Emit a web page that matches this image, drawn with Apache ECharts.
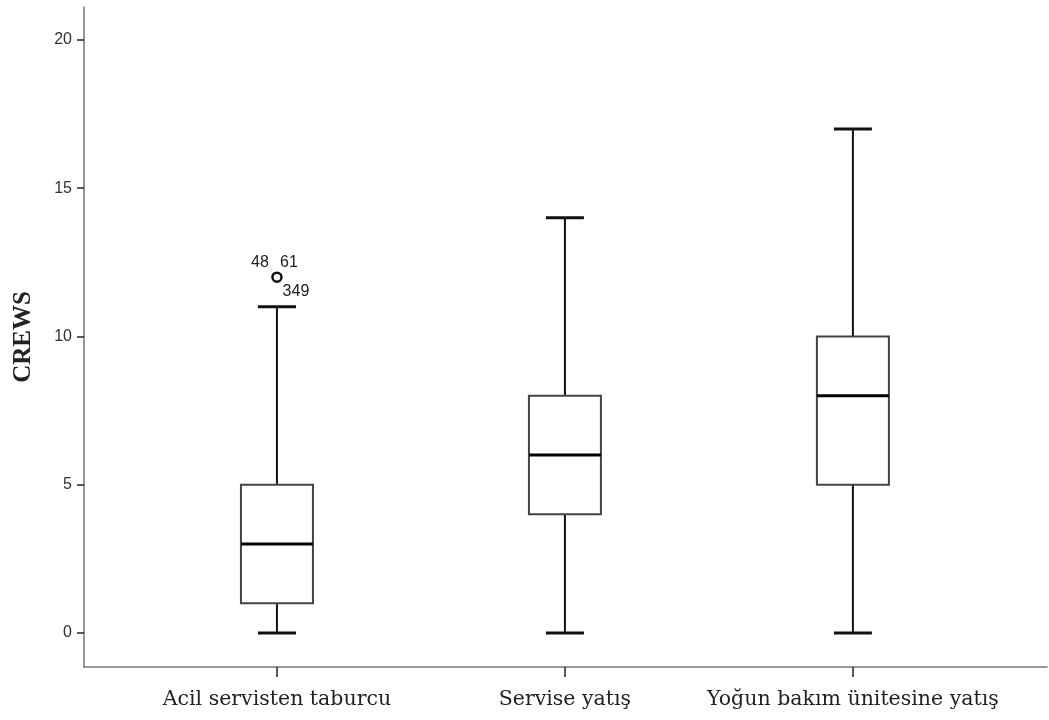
<!DOCTYPE html>
<html>
<head>
<meta charset="utf-8">
<script src="https://cdn.jsdelivr.net/npm/echarts@6/dist/echarts.min.js"></script>
<style>html,body{margin:0;padding:0;background:#fff;}#c{width:1049px;height:720px;}</style>
</head>
<body>
<div id="c"></div>
<script>
const categories = ['Acil servisten taburcu', 'Servise yatış', 'Yoğun bakım ünitesine yatış'];
const mins = [0, 0, 0];
const q1s = [1, 4, 5];
const medians = [3, 6, 8];
const q3s = [5, 8, 10];
const maxs = [11, 14, 17];
const outlierPoints = [[0, 12]];
const outlierLabels = [['48', '61', '349']];
const yTicks = [0, 5, 10, 15, 20];
const yName = 'CREWS';

const boxData = categories.map((c, i) => [i, mins[i], q1s[i], medians[i], q3s[i], maxs[i]]);

const chart = echarts.init(document.getElementById('c'));
chart.setOption({
  animation: false,
  backgroundColor: '#fff',
  grid: { left: 84, right: 2, top: 7, bottom: 53, containLabel: false, outerBoundsMode: 'none' },
  xAxis: {
    type: 'value', min: -0.670, max: 2.674,
    splitLine: { show: false },
    axisLine: { show: true, onZero: false, lineStyle: { color: '#777', width: 1.5 } },
    axisTick: { show: true, length: 10, customValues: categories.map((c, i) => i), lineStyle: { color: '#222', width: 1.5 } },
    axisLabel: {
      customValues: categories.map((c, i) => i),
      formatter: v => categories[Math.round(v)],
      margin: 22, fontFamily: 'DejaVu Serif', fontSize: 20.5, color: '#222'
    }
  },
  yAxis: {
    type: 'value', min: -1.147, max: 21.11,
    name: yName, nameLocation: 'middle', nameGap: 48, nameRotate: 90,
    nameTextStyle: { fontFamily: 'Liberation Serif', fontWeight: 'bold', fontSize: 25, color: '#222' },
    splitLine: { show: false },
    axisLine: { show: true, onZero: false, lineStyle: { color: '#777', width: 1.5 } },
    axisTick: { show: true, length: 7, customValues: yTicks, lineStyle: { color: '#222', width: 1.5 } },
    axisLabel: { customValues: yTicks, margin: 12, fontFamily: 'Liberation Sans', fontSize: 16, color: '#333' }
  },
  series: [
    {
      type: 'custom',
      data: boxData,
      renderItem: (params, api) => {
        const x = api.value(0);
        const unit = api.size([1, 0])[0];
        const hw = unit * 0.125, cw = unit * 0.066;
        const pMin = api.coord([x, api.value(1)]);
        const pQ1 = api.coord([x, api.value(2)]);
        const pMed = api.coord([x, api.value(3)]);
        const pQ3 = api.coord([x, api.value(4)]);
        const pMax = api.coord([x, api.value(5)]);
        const cx = pMed[0];
        return {
          type: 'group',
          children: [
            { type: 'line', shape: { x1: cx, y1: pMax[1], x2: cx, y2: pQ3[1] }, style: { stroke: '#111', lineWidth: 2 } },
            { type: 'line', shape: { x1: cx, y1: pQ1[1], x2: cx, y2: pMin[1] }, style: { stroke: '#111', lineWidth: 2 } },
            { type: 'line', shape: { x1: cx - cw, y1: pMax[1], x2: cx + cw, y2: pMax[1] }, style: { stroke: '#111', lineWidth: 3 } },
            { type: 'line', shape: { x1: cx - cw, y1: pMin[1], x2: cx + cw, y2: pMin[1] }, style: { stroke: '#111', lineWidth: 3 } },
            { type: 'rect', shape: { x: cx - hw, y: pQ3[1], width: 2 * hw, height: pQ1[1] - pQ3[1] }, style: { fill: '#fff', stroke: '#444', lineWidth: 2 } },
            { type: 'line', shape: { x1: cx - hw, y1: pMed[1], x2: cx + hw, y2: pMed[1] }, style: { stroke: '#000', lineWidth: 3 } }
          ]
        };
      }
    },
    {
      type: 'custom',
      data: outlierPoints,
      renderItem: (params, api) => {
        const p = api.coord([api.value(0), api.value(1)]);
        const labs = outlierLabels[params.dataIndex];
        const font = '16px "Liberation Sans"';
        return {
          type: 'group',
          children: [
            { type: 'circle', shape: { cx: p[0], cy: p[1], r: 4.5 }, style: { fill: '#fff', stroke: '#111', lineWidth: 2.5 } },
            { type: 'text', style: { x: p[0] - 17, y: p[1] - 15, text: labs[0], font: font, fill: '#222', align: 'center', verticalAlign: 'middle' } },
            { type: 'text', style: { x: p[0] + 12, y: p[1] - 15, text: labs[1], font: font, fill: '#222', align: 'center', verticalAlign: 'middle' } },
            { type: 'text', style: { x: p[0] + 19, y: p[1] + 14, text: labs[2], font: font, fill: '#222', align: 'center', verticalAlign: 'middle' } }
          ]
        };
      }
    }
  ]
});
</script>
</body>
</html>
